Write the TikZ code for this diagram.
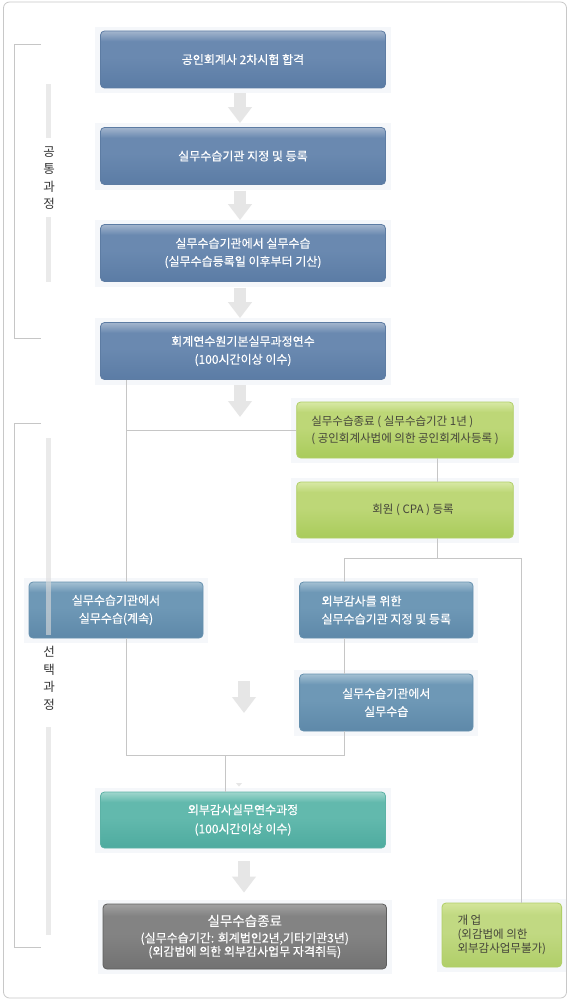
\documentclass[tikz,border=0pt]{standalone}
\usepackage{fontspec}
\setmainfont{Noto Sans CJK KR}
\newfontfamily\kbold{Noto Sans CJK KR}[FakeBold=0.35]
\usetikzlibrary{arrows.meta,calc,backgrounds}
\definecolor{frameC}{HTML}{C8C8C8}
\definecolor{lineC}{HTML}{C6C6C6}
\definecolor{arrC}{HTML}{E6E6E6}
\definecolor{barC}{HTML}{DCDCDC}
\definecolor{haloC}{HTML}{F5F7FA}
\definecolor{labC}{HTML}{333333}
\definecolor{bTop}{HTML}{A3B5CD}
\definecolor{bMid}{HTML}{6A89B0}
\definecolor{bBot}{HTML}{5B7CA5}
\definecolor{bBord}{HTML}{5D7CA3}
\definecolor{cTop}{HTML}{A4C0D3}
\definecolor{cMid}{HTML}{6E98B6}
\definecolor{cBot}{HTML}{5E89A9}
\definecolor{cBord}{HTML}{6590AE}
\definecolor{gTop}{HTML}{D8E9A6}
\definecolor{gMid}{HTML}{BDD777}
\definecolor{gBot}{HTML}{A9CB5B}
\definecolor{gBord}{HTML}{B0CF67}
\definecolor{gText}{HTML}{45453A}
\definecolor{tTop}{HTML}{A0D6CD}
\definecolor{tMid}{HTML}{62B9AD}
\definecolor{tBot}{HTML}{4EAB9F}
\definecolor{tBord}{HTML}{5CB2A6}
\definecolor{kTop}{HTML}{A2A2A2}
\definecolor{kMid}{HTML}{838383}
\definecolor{kBot}{HTML}{727272}
\definecolor{kBord}{HTML}{5E5E5E}
\definecolor{oTop}{HTML}{D4E59A}
\definecolor{oMid}{HTML}{C1D982}
\definecolor{oBot}{HTML}{B0CE68}
\pgfdeclareverticalshading{shBlue}{100bp}{color(0bp)=(bBot); color(25bp)=(bBot); color(52bp)=(bMid); color(66bp)=(bMid); color(75bp)=(bTop); color(100bp)=(bTop)}
\pgfdeclareverticalshading{shBlueB}{100bp}{color(0bp)=(cBot); color(25bp)=(cBot); color(52bp)=(cMid); color(66bp)=(cMid); color(75bp)=(cTop); color(100bp)=(cTop)}
\pgfdeclareverticalshading{shGreen}{100bp}{color(0bp)=(gBot); color(25bp)=(gBot); color(52bp)=(gMid); color(66bp)=(gMid); color(75bp)=(gTop); color(100bp)=(gTop)}
\pgfdeclareverticalshading{shTeal}{100bp}{color(0bp)=(tBot); color(25bp)=(tBot); color(52bp)=(tMid); color(66bp)=(tMid); color(75bp)=(tTop); color(100bp)=(tTop)}
\pgfdeclareverticalshading{shGray}{100bp}{color(0bp)=(kBot); color(25bp)=(kBot); color(52bp)=(kMid); color(66bp)=(kMid); color(75bp)=(kTop); color(100bp)=(kTop)}
\pgfdeclareverticalshading{shOlive}{100bp}{color(0bp)=(oBot); color(25bp)=(oBot); color(52bp)=(oMid); color(66bp)=(oMid); color(75bp)=(oTop); color(100bp)=(oTop)}
\begin{document}
\begin{tikzpicture}[x=1pt,y=-1pt,
  box/.style={rounded corners=4pt, inner sep=0pt, align=center, line width=0.8pt, shade},
  bluebox/.style={box, draw=bBord, shading=shBlue, text=white, minimum width=285pt, minimum height=57pt, font=\kbold\fontsize{12}{18}\selectfont},
  blueboxb/.style={box, draw=cBord, shading=shBlueB, text=white, minimum width=173.4pt, minimum height=56pt, font=\kbold\fontsize{12}{18}\selectfont},
  greenbox/.style={box, draw=gBord, shading=shGreen, text=gText, minimum width=216.6pt, minimum height=56pt, font=\fontsize{11.5}{17}\selectfont},
  tealbox/.style={box, draw=tBord, shading=shTeal, text=white, minimum width=285pt, minimum height=56pt, font=\kbold\fontsize{12}{19}\selectfont},
  graybox/.style={box, draw=kBord, shading=shGray, text=white, minimum width=283.5pt, minimum height=65pt, font=\kbold\fontsize{12}{13.5}\selectfont},
  olivebox/.style={box, draw=gBord, shading=shOlive, text=gText, align=left, minimum width=119.6pt, minimum height=64pt, font=\fontsize{11.5}{14}\selectfont},
  conn/.style={draw=lineC, line width=0.8pt},
  brk/.style={draw=lineC, line width=0.8pt},
  barrow/.style={draw=arrC, line width=11.5pt, -{Triangle[width=23pt,length=16pt]}},
  vlabel/.style={text=labC, align=center, inner sep=0pt, font=\fontsize{12.5}{17.5}\selectfont}]
\useasboundingbox (0,0) rectangle (570,1000);
\draw[draw=frameC, line width=0.8pt, rounded corners=6pt] (3.5,2) rectangle (566.5,998);

% brackets
\draw[brk] (41,44) -- (14.5,44) -- (14.5,338) -- (41,338);
\draw[brk] (41,423) -- (14.5,423) -- (14.5,947) -- (41,947);

% boxes
\node[bluebox] (b1) at (243,59.5) {공인회계사 2차시험 합격};
\node[bluebox] (b2) at (243,156) {실무수습기관 지정 및 등록};
\node[bluebox] (b3) at (243,253) {실무수습기관에서 실무수습\\(실무수습등록일 이후부터 기산)};
\node[bluebox] (b4) at (243,351) {회계연수원기본실무과정연수\\(100시간이상 이수)};
\node[greenbox, align=left] (g1) at (405,430) {실무수습종료 ( 실무수습기간 1년 )\\( 공인회계사법에 의한 공인회계사등록 )};
\node[greenbox] (g2) at (405,510) {\hspace*{16pt}회원 ( CPA ) 등록};
\node[blueboxb, minimum width=174pt] (lb) at (116,610) {실무수습기관에서\\실무수습(계속)};
\node[blueboxb, align=left] (r1) at (386.3,610) {외부감사를 위한\\실무수습기관 지정 및 등록};
\node[blueboxb, minimum height=57pt] (r2) at (386.3,702.5) {실무수습기관에서\\실무수습};
\node[tealbox] (t1) at (243,820) {외부감사실무연수과정\\(100시간이상 이수)};
\node[graybox] (gr) at (244.75,936.5) {{\fontsize{13.5}{16}\selectfont 실무수습종료}\\[3pt](실무수습기간: 회계법인2년,기타기관3년)\\(외감법에 의한 외부감사업무 자격취득)};
\node[olivebox] (kb) at (501.8,935) {개 업\\(외감법에 의한\\외부감사업무불가)};

% vertical labels
\node[vlabel] (L1) at (49,178) {공\\통\\과\\정};
\node[vlabel] (L2) at (49,678.5) {선\\택\\과\\정};

% bars
\fill[barC, opacity=0.6] (46,84) rectangle (50.5,138);
\fill[barC, opacity=0.6] (46,217) rectangle (50.5,282);
\fill[barC, opacity=0.6] (46,438) rectangle (50.5,635);
\fill[barC, opacity=0.6] (46,727) rectangle (50.5,935);

% connector coordinates
\coordinate (c1) at (126,379);
\coordinate (j1) at (126,755);
\coordinate (j2) at (344,755);
\coordinate (j3) at (344,558);
\coordinate (j4) at (521.7,558);
\coordinate (j5) at (225,755);
\coordinate (gx) at (437.7,558);

\draw[conn] (b4.south -| c1) -- (lb.north -| c1);
\draw[conn] (g1.west) -- (g1.west -| c1);
\draw[conn] (lb.south -| j1) -- (j1) -- (j2) -- (r2.south -| j2);
\draw[conn] (r1.south -| j2) -- (r2.north -| j2);
\draw[conn] (g1.south -| gx) -- (g2.north -| gx);
\draw[conn] (g2.south -| gx) -- (gx);
\draw[conn] (r1.north -| j3) -- (j3) -- (j4) -- (kb.north -| j4);
\draw[conn] (j5) -- (t1.north -| j5);

% block arrows
\coordinate (a4s) at (240,385);
\coordinate (a4e) at (240,417);
\coordinate (a5s) at (244,681);
\coordinate (a5e) at (244,713);
\draw[barrow] ($(b1.south)+(-3,5)$) -- ($(b2.north)+(-3,-4)$);
\draw[barrow] ($(b2.south)+(-3,6)$) -- ($(b3.north)+(-3,-4)$);
\draw[barrow] ($(b3.south)+(-3,6)$) -- ($(b4.north)+(-3,-4)$);
\draw[barrow] (a4s) -- (a4e);
\draw[barrow] (a5s) -- (a5e);
\draw[barrow] ($(t1.south)+(1,13)$) -- ($(gr.north)+(-0.75,-11)$);
\fill[arrC] (236,783) -- (242,783) -- (239,786.5) -- cycle;

\begin{pgfonlayer}{background}
\fill[white] (0,0) rectangle (570,1000);
\foreach \n in {b1,b2,b3,b4,g1,g2,lb,r1,r2,t1,gr,kb}
  \fill[haloC] ([shift={(-5,-4)}]\n.north west) rectangle ([shift={(5,5)}]\n.south east);
\end{pgfonlayer}
\end{tikzpicture}
\end{document}
